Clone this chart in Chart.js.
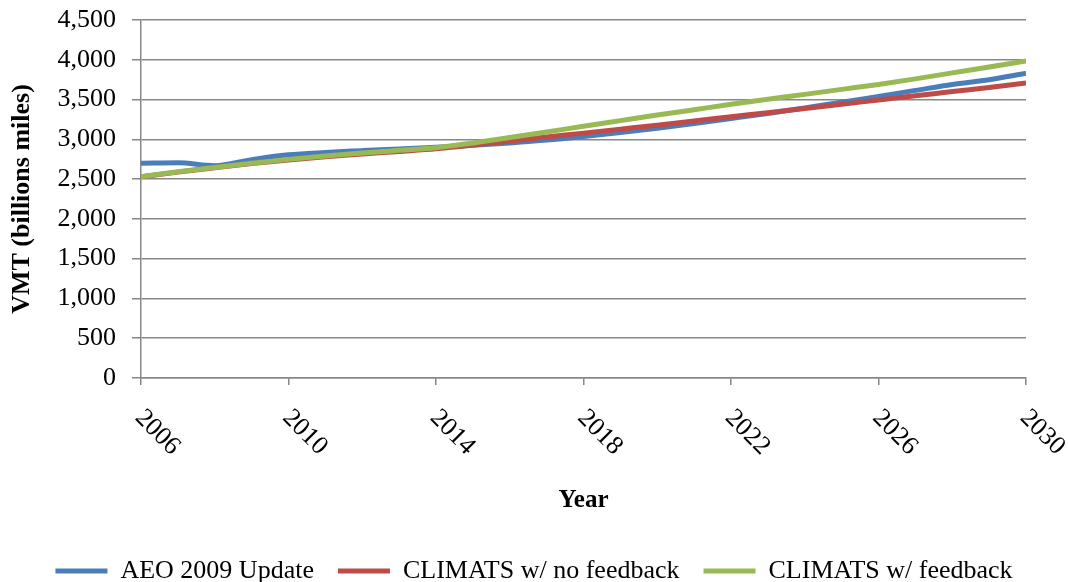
<!DOCTYPE html>
<html>
<head>
<meta charset="utf-8">
<script src="https://cdn.jsdelivr.net/npm/chart.js@4/dist/chart.umd.min.js"></script>
<style>
  html, body { margin: 0; padding: 0; background: #ffffff; }
  #wrap { width: 1068px; height: 582px; position: relative; }
</style>
</head>
<body>
<div id="wrap"><canvas id="c" width="1068" height="582"></canvas></div>
<script>
// ---- data ----
const years = [2006, 2007, 2008, 2009, 2010, 2011, 2012, 2013, 2014, 2015, 2016, 2017, 2018,
               2019, 2020, 2021, 2022, 2023, 2024, 2025, 2026, 2027, 2028, 2029, 2030];
const aeo2009Update = [2700, 2705, 2668, 2745, 2805, 2835, 2858, 2880, 2900, 2925, 2955, 2990, 3035,
                       3085, 3140, 3200, 3262, 3325, 3395, 3465, 3540, 3615, 3690, 3750, 3830];
const climatsNoFeedback = [2530, 2588, 2642, 2695, 2740, 2780, 2815, 2848, 2882, 2928, 2978, 3028, 3078,
                           3128, 3178, 3230, 3285, 3335, 3388, 3440, 3495, 3547, 3600, 3652, 3708];
const climatsFeedback = [2530, 2592, 2647, 2700, 2748, 2790, 2828, 2862, 2895, 2955, 3022, 3092, 3165,
                         3235, 3305, 3372, 3440, 3503, 3565, 3628, 3690, 3760, 3835, 3910, 3985];
const seriesNames = ['AEO 2009 Update', 'CLIMATS w/ no feedback', 'CLIMATS w/ feedback'];
const yTitle = 'VMT (billions miles)';
const xTitle = 'Year';

const GRID = '#878787';
const FONT = '"Liberation Serif", "Times New Roman", serif';

function pts(arr) { return arr.map((v, i) => ({ x: years[i], y: v })); }

// draw x tick labels rotated 45° clockwise, starting at the tick
const xLabelPlugin = {
  id: 'xLabels',
  afterDraw(chart) {
    const xs = chart.scales.x;
    const ctx = chart.ctx;
    ctx.save();
    ctx.font = '26px ' + FONT;
    ctx.fillStyle = '#000';
    ctx.textAlign = 'left';
    ctx.textBaseline = 'middle';
    xs.ticks.forEach(t => {
      const px = xs.getPixelForValue(t.value);
      ctx.save();
      ctx.translate(px - 2, xs.top + 36);
      ctx.rotate(Math.PI / 4);
      ctx.fillText(String(t.value), 0, 0);
      ctx.restore();
    });
    ctx.restore();
  }
};

const ds = (label, data, color, order) => ({
  label, data: pts(data), borderColor: color, backgroundColor: color,
  borderWidth: 5, pointRadius: 0, pointHoverRadius: 0, tension: 0.4,
  cubicInterpolationMode: 'monotone', fill: false, order
});

new Chart(document.getElementById('c'), {
  type: 'line',
  data: {
    datasets: [
      ds(seriesNames[0], aeo2009Update, '#4A7EBB', 2),
      ds(seriesNames[1], climatsNoFeedback, '#BE4B48', 1),
      ds(seriesNames[2], climatsFeedback, '#98B954', 0)
    ]
  },
  options: {
    responsive: false,
    animation: false,
    devicePixelRatio: 1,
    locale: 'en-US',
    layout: { padding: { left: 0, right: 0, top: 20, bottom: -12 } },
    plugins: {
      tooltip: { enabled: false },
      legend: {
        position: 'bottom',
        labels: {
          font: { family: FONT, size: 26 },
          color: '#000',
          boxWidth: 52,
          boxHeight: 5,
          padding: 24,
          sort: (a, b) => a.datasetIndex - b.datasetIndex,
          generateLabels(chart) {
            const items = Chart.defaults.plugins.legend.labels.generateLabels(chart);
            items.forEach(it => { it.lineWidth = 0; it.fillStyle = it.strokeStyle; });
            return items;
          }
        }
      }
    },
    scales: {
      x: {
        type: 'linear',
        min: 2006, max: 2030,
        ticks: { stepSize: 4, display: false },
        grid: { drawOnChartArea: false, drawTicks: true, tickLength: 7, tickColor: GRID, lineWidth: 1.5 },
        border: { color: GRID, width: 1.5 },
        title: { display: true, text: xTitle, color: '#000',
                 font: { family: FONT, size: 25, weight: 'bold' }, padding: { top: 0, bottom: 18 } },
        afterFit(s) { s.height = 156; }
      },
      y: {
        type: 'linear',
        position: 'left',
        min: 0, max: 4500,
        ticks: { stepSize: 500, color: '#000', font: { family: FONT, size: 26, lineHeight: 0.3 }, padding: 16 },
        grid: { color: GRID, lineWidth: 1.5, tickLength: 9, tickColor: GRID },
        border: { color: GRID, width: 1.5 },
        title: { display: true, text: yTitle, color: '#000',
                 font: { family: FONT, size: 26, weight: 'bold' }, padding: { top: 7, bottom: 0 } },
        afterFit(s) { s.width = 141; }
      },
      y2: {
        type: 'linear',
        position: 'right',
        display: true,
        min: 0, max: 4500,
        ticks: { display: false },
        grid: { display: false, drawTicks: false },
        border: { display: false },
        afterFit(s) { s.width = 42; }
      }
    }
  },
  plugins: [xLabelPlugin]
});
</script>
</body>
</html>
